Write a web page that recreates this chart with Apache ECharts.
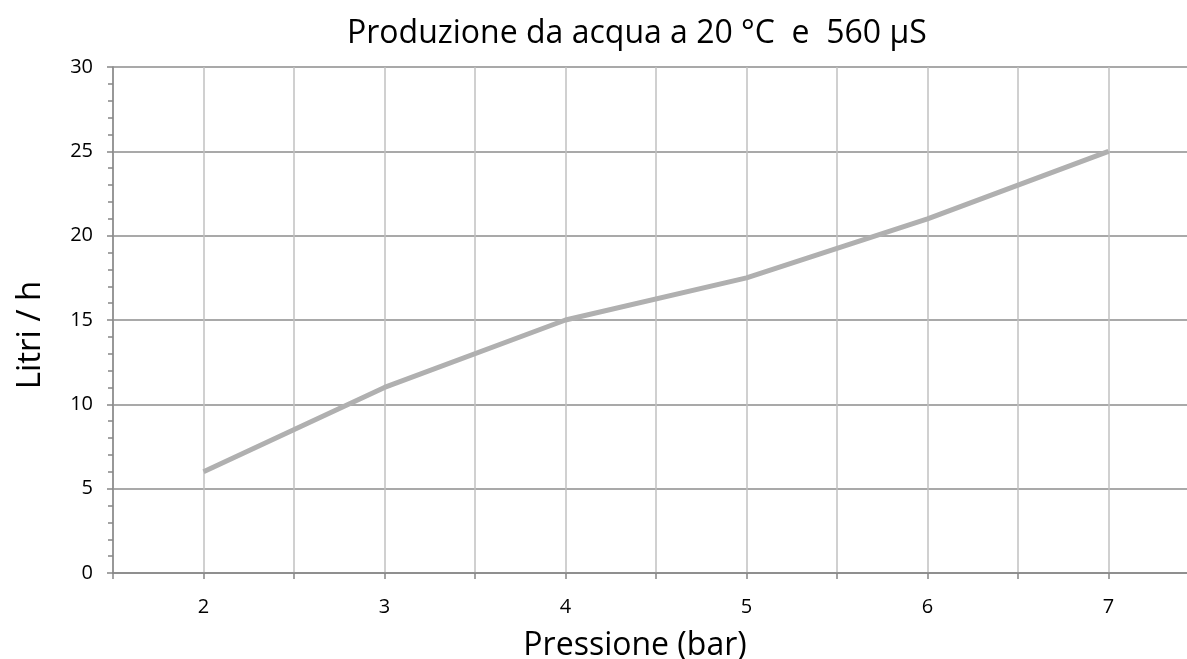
<!DOCTYPE html>
<html>
<head>
<meta charset="utf-8">
<script src="https://cdn.jsdelivr.net/npm/echarts@6/dist/echarts.min.js"></script>
<style>
html,body{margin:0;padding:0;background:#fff;}
#c{width:1187px;height:659px;}
</style>
</head>
<body>
<div id="c"></div>
<script>
const titleText = 'Produzione da acqua a 20 °C  e  560 µS';
const xName = 'Pressione (bar)';
const yName = 'Litri / h';
const pressures = [2, 3, 4, 5, 6, 7];
const litri = [6, 11, 15, 17.5, 21, 25];
const yTicks = [0, 5, 10, 15, 20, 25, 30];

const FONT = '"Open Sans", sans-serif';
const chart = echarts.init(document.getElementById('c'));
chart.setOption({
  animation: false,
  backgroundColor: '#fff',
  title: {
    text: titleText,
    left: 342,
    top: 13,
    textStyle: { fontFamily: FONT, fontSize: 32, fontWeight: 'normal', color: '#000' }
  },
  grid: { left: 113, top: 67, height: 506, width: 1086, containLabel: false, outerBoundsMode: 'none' },
  xAxis: {
    type: 'value',
    min: 1.5,
    max: 7.5,
    interval: 0.5,
    name: xName,
    nameLocation: 'middle',
    nameGap: 57,
    nameTextStyle: { fontFamily: FONT, fontSize: 32, color: '#000', padding: [0, 42, 0, 0] },
    axisLine: { show: true, lineStyle: { color: '#868686', width: 1.5 } },
    axisTick: { show: true, length: 6, lineStyle: { color: '#868686', width: 1.5 } },
    axisLabel: {
      fontFamily: FONT, fontSize: 20, color: '#000', margin: 24,
      formatter: v => (Math.abs(v - Math.round(v)) < 1e-6 && pressures.indexOf(Math.round(v)) >= 0) ? String(Math.round(v)) : ''
    },
    splitLine: { show: true, lineStyle: { color: '#c0c0c0', width: 1.5 } }
  },
  yAxis: {
    type: 'value',
    min: yTicks[0],
    max: yTicks[yTicks.length - 1],
    interval: 5,
    name: yName,
    nameLocation: 'middle',
    nameRotate: 90,
    nameGap: 66,
    nameTextStyle: { fontFamily: FONT, fontSize: 33, color: '#000', padding: [0, 30, 0, 0] },
    axisLine: { show: true, lineStyle: { color: '#868686', width: 1.5 } },
    axisTick: { show: true, length: 6, lineStyle: { color: '#868686', width: 1.5 } },
    minorTick: { show: true, splitNumber: 5, length: 5, lineStyle: { color: '#868686', width: 1.5 } },
    axisLabel: { fontFamily: FONT, fontSize: 20, color: '#000', margin: 20 },
    splitLine: { show: true, lineStyle: { color: '#8c8c8c', width: 1.5 } }
  },
  series: [{
    type: 'line',
    data: pressures.map((p, i) => [p, litri[i]]),
    symbol: 'none',
    lineStyle: { color: '#b0b0b0', width: 5 },
    z: 5
  }]
});
</script>
</body>
</html>
